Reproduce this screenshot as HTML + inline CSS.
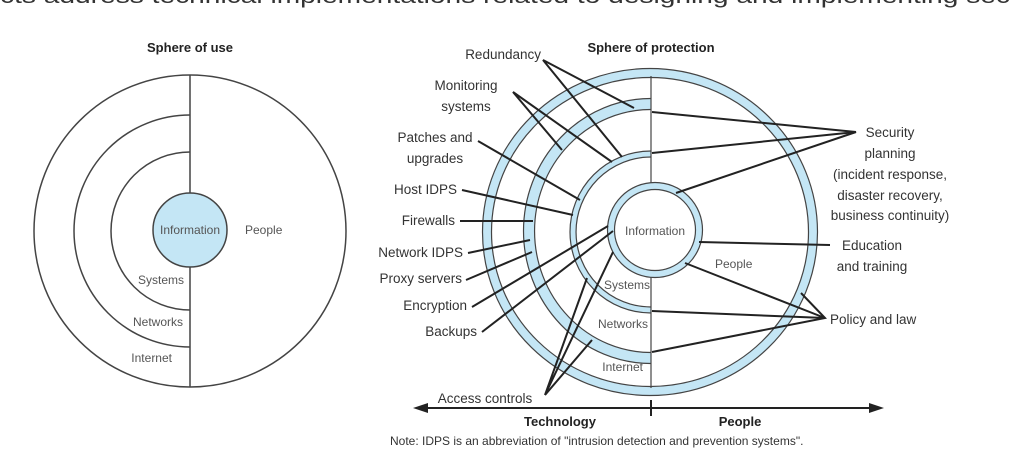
<!DOCTYPE html>
<html><head><meta charset="utf-8"><style>
html,body{margin:0;padding:0;background:#fff;width:1010px;height:464px;overflow:hidden}
svg{display:block}
text{font-family:"Liberation Sans",sans-serif;fill:#333}
.b{font-weight:bold;fill:#222}
.l{font-size:13.5px;fill:#2a2a2a}
.g{font-size:12px;fill:#555}
</style></head><body>
<svg width="1010" height="464" viewBox="0 0 1010 464" xmlns="http://www.w3.org/2000/svg">
<text x="0" y="3" font-size="21" textLength="1010" lengthAdjust="spacingAndGlyphs" fill="#333">cts address technical implementations related to designing and implementing sec</text>

<!-- Left diagram -->
<text x="190" y="52" class="b" font-size="13" text-anchor="middle">Sphere of use</text>
<circle cx="190" cy="231" r="156" fill="none" stroke="#444" stroke-width="1.5"/>
<path d="M190 115 A116 116 0 0 0 190 347" fill="none" stroke="#444" stroke-width="1.5"/>
<path d="M190 152 A79 79 0 0 0 190 310" fill="none" stroke="#444" stroke-width="1.5"/>
<line x1="190" y1="75" x2="190" y2="387" stroke="#444" stroke-width="1.5"/>
<circle cx="190" cy="230" r="37" fill="#c4e6f5" stroke="#444" stroke-width="1.5"/>
<text x="190" y="234" class="g" text-anchor="middle">Information</text>
<text x="245" y="234" class="g">People</text>
<text x="184" y="284" class="g" text-anchor="end">Systems</text>
<text x="183" y="326" class="g" text-anchor="end">Networks</text>
<text x="172" y="362" class="g" text-anchor="end">Internet</text>

<!-- Right diagram -->
<text x="651" y="52" class="b" font-size="13" text-anchor="middle">Sphere of protection</text>
<ellipse cx="650" cy="232" rx="163" ry="159" fill="none" stroke="#c4e6f5" stroke-width="9"/>
<ellipse cx="650" cy="232" rx="167.5" ry="163.5" fill="none" stroke="#444" stroke-width="1.2"/>
<ellipse cx="650" cy="232" rx="158.5" ry="154.5" fill="none" stroke="#444" stroke-width="1.2"/>
<path d="M651 104 A122 127 0 0 0 651 358" fill="none" stroke="#c4e6f5" stroke-width="11"/>
<path d="M651 98.5 A127.5 132.5 0 0 0 651 363.5" fill="none" stroke="#444" stroke-width="1.2"/>
<path d="M651 109.5 A116.5 121.5 0 0 0 651 352.5" fill="none" stroke="#444" stroke-width="1.2"/>
<path d="M651 154 A78 78 0 0 0 651 310" fill="none" stroke="#c4e6f5" stroke-width="6"/>
<path d="M651 151 A81 81 0 0 0 651 313" fill="none" stroke="#444" stroke-width="1.2"/>
<path d="M651 157 A75 75 0 0 0 651 307" fill="none" stroke="#444" stroke-width="1.2"/>
<line x1="651" y1="76" x2="651" y2="184" stroke="#444" stroke-width="1.2"/>
<line x1="651" y1="276" x2="651" y2="388" stroke="#444" stroke-width="1.2"/>
<circle cx="655" cy="230" r="44" fill="none" stroke="#c4e6f5" stroke-width="7"/>
<circle cx="655" cy="230" r="47.5" fill="none" stroke="#444" stroke-width="1.2"/>
<circle cx="655" cy="230" r="40.5" fill="#fff" stroke="#444" stroke-width="1.2"/>
<text x="655" y="235" class="g" text-anchor="middle">Information</text>
<text x="715" y="268" class="g">People</text>
<text x="650" y="289" class="g" text-anchor="end">Systems</text>
<text x="648" y="328" class="g" text-anchor="end">Networks</text>
<text x="643" y="371" class="g" text-anchor="end">Internet</text>

<g class="l">
<text x="541" y="59" text-anchor="end">Redundancy</text>
<text x="466" y="90" text-anchor="middle">Monitoring</text>
<text x="466" y="111" text-anchor="middle">systems</text>
<text x="435" y="142" text-anchor="middle">Patches and</text>
<text x="435" y="163" text-anchor="middle">upgrades</text>
<text x="457" y="194" text-anchor="end">Host IDPS</text>
<text x="455" y="225" text-anchor="end">Firewalls</text>
<text x="463" y="257" text-anchor="end">Network IDPS</text>
<text x="462" y="283" text-anchor="end">Proxy servers</text>
<text x="467" y="310" text-anchor="end">Encryption</text>
<text x="477" y="336" text-anchor="end">Backups</text>
<text x="485" y="403" text-anchor="middle">Access controls</text>
<text x="890" y="137" text-anchor="middle">Security</text>
<text x="890" y="158" text-anchor="middle">planning</text>
<text x="890" y="179" text-anchor="middle">(incident response,</text>
<text x="890" y="200" text-anchor="middle">disaster recovery,</text>
<text x="890" y="220" text-anchor="middle">business continuity)</text>
<text x="872" y="250" text-anchor="middle">Education</text>
<text x="872" y="271" text-anchor="middle">and training</text>
<text x="830" y="324">Policy and law</text>
</g>

<g stroke="#222" stroke-width="2" fill="none">
<path d="M634 108 L543 60 L622 157"/>
<path d="M562 150 L513 92 L612 162"/>
<path d="M478 141 L580 200"/>
<path d="M462 190 L573 215"/>
<path d="M460 221 L533 221"/>
<path d="M468 253 L530 240"/>
<path d="M466 280 L532 252"/>
<path d="M472 307 L608 226"/>
<path d="M482 332 L613 231"/>
<path d="M587 278 L545 395 L613 252"/>
<path d="M545 395 L592 340"/>
<path d="M652 112 L856 132 L652 153"/>
<path d="M856 132 L676 193"/>
<path d="M699 242 L830 245"/>
<path d="M685 263 L825 318 L652 311"/>
<path d="M652 352 L825 318 L801 293"/>
</g>

<line x1="425" y1="408" x2="872" y2="408" stroke="#222" stroke-width="2"/>
<polygon points="413,408 428,403 428,413" fill="#222"/>
<polygon points="884,408 869,403 869,413" fill="#222"/>
<line x1="651" y1="400" x2="651" y2="416" stroke="#222" stroke-width="2"/>
<text x="560" y="426" class="b" font-size="13" text-anchor="middle">Technology</text>
<text x="740" y="426" class="b" font-size="13" text-anchor="middle">People</text>
<text x="390" y="445" font-size="12" fill="#333">Note: IDPS is an abbreviation of "intrusion detection and prevention systems".</text>
</svg>
</body></html>
